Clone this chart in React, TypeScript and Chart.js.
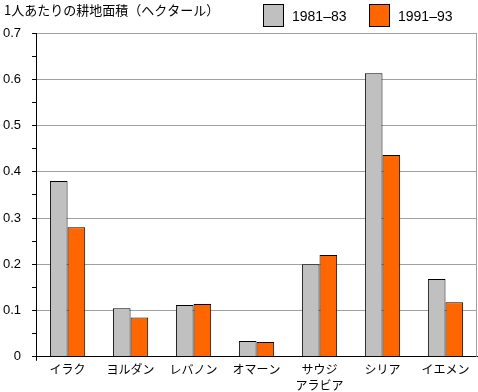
import React, { useEffect, useRef } from "react";
import { Chart, registerables } from "chart.js";

Chart.register(...registerables);

const TITLE = "1人あたりの耕地面積（ヘクタール）";
const categories: (string | string[])[] = ["イラク", "ヨルダン", "レバノン", "オマーン", ["サウジ", "アラビア"], "シリア", "イエメン"];
const seriesNames = ["1981–83", "1991–93"];
const values1981 = [0.38, 0.105, 0.112, 0.034, 0.2, 0.613, 0.168];
const values1991 = [0.28, 0.085, 0.114, 0.032, 0.22, 0.436, 0.118];
const colors = ["#c0c0c0", "#ff6600"];
const yMax = 0.7;
const yStep = 0.05;

const NUM_FONT = "'Liberation Sans', Arial, sans-serif";
const JP_FONT = "'Noto Sans CJK JP', sans-serif";

const decorPlugin = {
  id: "decor",
  afterDraw(chart: any) {
    const ctx = chart.ctx;
    const a = chart.chartArea;
    ctx.save();
    ctx.strokeStyle = "#a0a0a0";
    ctx.lineWidth = 1;
    ctx.beginPath();
    ctx.moveTo(Math.round(a.right) - 0.5, a.top);
    ctx.lineTo(Math.round(a.right) - 0.5, a.bottom);
    ctx.stroke();
    ctx.strokeStyle = "#000";
    ctx.beginPath();
    ctx.moveTo(Math.round(a.left) + 0.5, a.bottom);
    ctx.lineTo(Math.round(a.left) + 0.5, a.bottom + 4);
    ctx.stroke();
    ctx.fillStyle = "#000";
    ctx.font = `13px ${JP_FONT}`;
    ctx.textBaseline = "middle";
    ctx.textAlign = "left";
    ctx.fillText(TITLE, 4, 10);
    const ds = chart.data.datasets;
    const boxX = [263, 369];
    ds.forEach((d: any, i: number) => {
      const x = boxX[i];
      ctx.fillStyle = d.backgroundColor;
      ctx.fillRect(x, 4, 21, 23);
      ctx.strokeStyle = "#000";
      ctx.strokeRect(x + 0.5, 4.5, 20, 22);
      ctx.fillStyle = "#000";
      ctx.font = `14px ${NUM_FONT}`;
      ctx.fillText(d.label, x + 29, 17);
    });
    ctx.restore();
  },
};

export default function App() {
  const ref = useRef<HTMLCanvasElement>(null);
  useEffect(() => {
    if (!ref.current) return;
    const chart = new Chart(ref.current, {
      type: "bar",
      data: {
        labels: categories,
        datasets: [
          { label: seriesNames[0], data: values1981, backgroundColor: colors[0], borderColor: "#000", borderWidth: 1 },
          { label: seriesNames[1], data: values1991, backgroundColor: colors[1], borderColor: "#000", borderWidth: 1 },
        ],
      },
      options: {
        responsive: false,
        animation: false,
        layout: { padding: { top: 33, right: 1, left: -8, bottom: -6 } },
        plugins: { legend: { display: false }, title: { display: false }, tooltip: { enabled: false } },
        datasets: { bar: { categoryPercentage: 0.56, barPercentage: 1 } },
        scales: {
          x: {
            grid: { display: false, drawTicks: false },
            border: { display: true, color: "#000", width: 1 },
            ticks: {
              color: "#000",
              font: { family: JP_FONT, size: 12, lineHeight: 1.3 },
              padding: 5,
              maxRotation: 0,
              autoSkip: false,
            },
          },
          y: {
            min: 0,
            max: yMax,
            border: { display: true, color: "#000", width: 1 },
            grid: {
              color: (c: any) => (c.tick && Math.round(c.tick.value / yStep) % 2 === 0 && c.tick.value > 0 ? "#a0a0a0" : "rgba(0,0,0,0)"),
              tickColor: "#000",
              tickLength: 4,
              drawTicks: true,
            },
            ticks: {
              stepSize: yStep,
              color: "#000",
              padding: 11,
              font: { family: NUM_FONT, size: 13 },
              callback: (v: any) => {
                const n = Math.round(Number(v) / yStep);
                if (n % 2 !== 0) return "";
                const val = Number(v);
                return val === 0 ? "0" : val.toFixed(1);
              },
            },
          },
        },
      },
      plugins: [decorPlugin],
    });
    return () => chart.destroy();
  }, []);
  return (
    <div style={{ position: "fixed", left: 0, top: 0, width: 478, height: 392, background: "#fff" }}>
      <canvas ref={ref} width={478} height={392} />
    </div>
  );
}
